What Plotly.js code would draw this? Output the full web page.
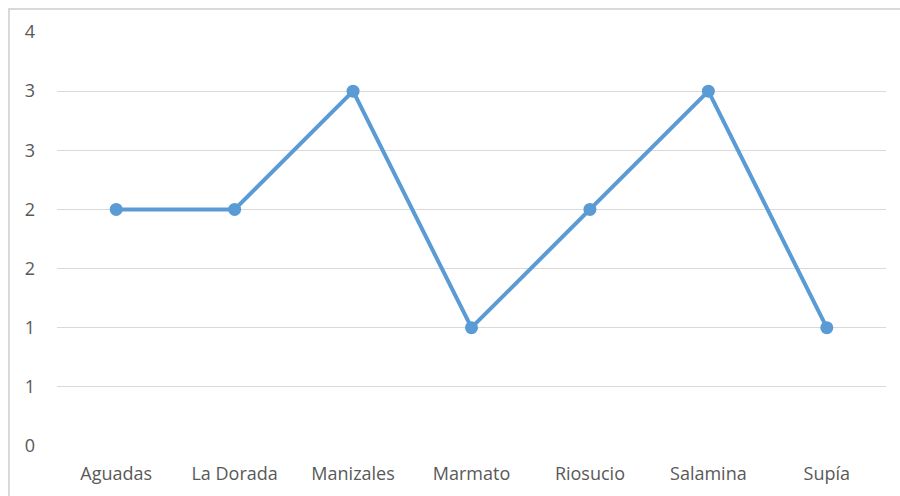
<!DOCTYPE html>
<html><head><meta charset="utf-8">
<script src="https://cdn.plot.ly/plotly-3.0.1.min.js"></script>
<style>
html,body{margin:0;padding:0;background:#fff;}
#frame{position:absolute;left:8px;top:8px;width:900px;height:500px;border-left:2px solid #d9d9d9;border-top:2px solid #d9d9d9;pointer-events:none;}
#chart{width:900px;height:496px;}
</style></head>
<body>
<div id="chart"></div>
<div id="frame"></div>
<script>
const categories = ["Aguadas","La Dorada","Manizales","Marmato","Riosucio","Salamina","Supía"];
const values = [2,2,3,1,2,3,1];
const yTickVals = [0,0.5,1,1.5,2,2.5,3,3.5];
const yTickText = ["0","1","1","2","2","3","3","4"];

Plotly.newPlot('chart',[{
  x: categories, y: values, type:'scatter', mode:'lines+markers',
  line:{color:'#5B9BD5', width:4},
  marker:{color:'#5B9BD5', size:13},
  hoverinfo:'skip'
}],{
  width:900, height:496,
  margin:{l:57,r:14,t:32,b:50},
  paper_bgcolor:'#fff', plot_bgcolor:'#fff',
  showlegend:false,
  font:{family:'Open Sans, Liberation Sans, sans-serif', color:'#595959', size:18},
  xaxis:{type:'category', range:[-0.5,6.5], showgrid:false, zeroline:false, showline:false, ticks:'', ticklabelstandoff:15, tickfont:{size:18}},
  yaxis:{range:[0,3.5], tickvals:yTickVals, ticktext:yTickText, showgrid:true, gridcolor:'#d9d9d9', gridwidth:1, zeroline:false, showline:false, ticks:'', ticklabelstandoff:21, tickfont:{size:18}}
},{displayModeBar:false, staticPlot:true});
</script>
</body></html>
